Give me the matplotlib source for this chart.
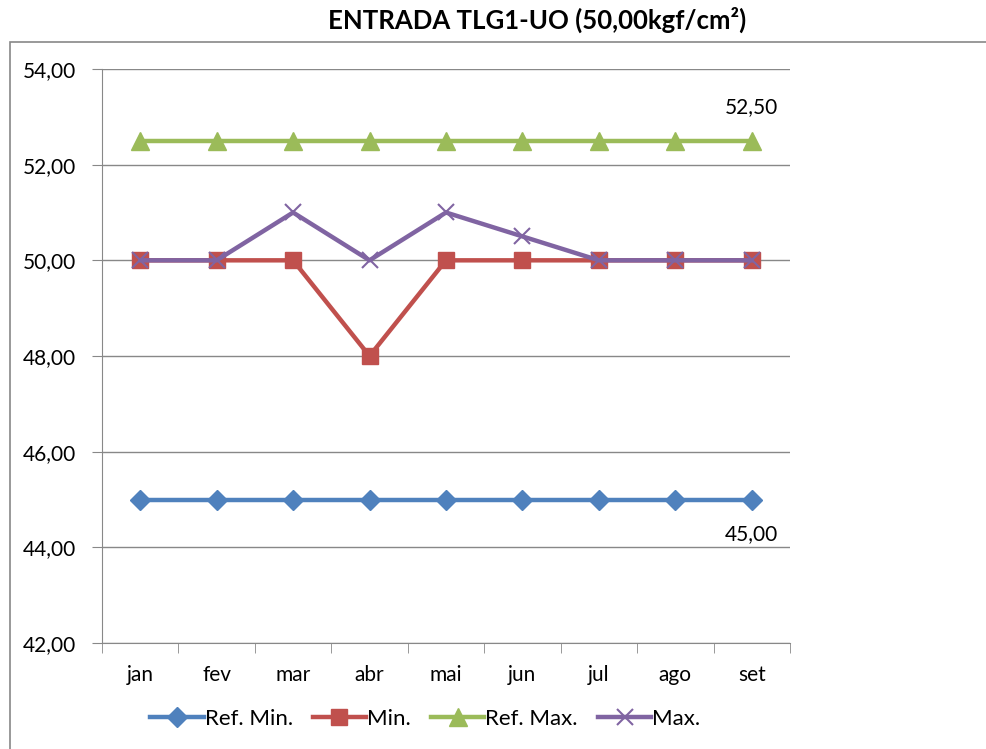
import numpy as np
import matplotlib.pyplot as plt
from matplotlib.patches import Rectangle

months = ["jan", "fev", "mar", "abr", "mai", "jun", "jul", "ago", "set"]
ref_min = [45, 45, 45, 45, 45, 45, 45, 45, 45]
vmin = [50, 50, 50, 48, 50, 50, 50, 50, 50]
ref_max = [52.5, 52.5, 52.5, 52.5, 52.5, 52.5, 52.5, 52.5, 52.5]
vmax = [50, 50, 51, 50, 51, 50.5, 50, 50, 50]
yticks = [42, 44, 46, 48, 50, 52, 54]

plt.rcParams['font.family'] = ['Lato', 'DejaVu Sans']

fig = plt.figure(figsize=(9.86, 7.49), dpi=100)
ax = fig.add_axes([0.1034, 0.1415, 0.6978, 0.7664])

# outer chart border (extends past the image on right/bottom)
fig.patches.append(Rectangle((0.0101, -0.1), 1.2, 1.044, transform=fig.transFigure,
                             fill=False, edgecolor='#888888', linewidth=1.2))

x = np.arange(len(months))
ax.plot(x, ref_min, color='#4F81BD', lw=3.2, marker='D', ms=10, label='Ref. Min.')
ax.plot(x, vmin, color='#C0504D', lw=3.2, marker='s', ms=12, label='Min.')
ax.plot(x, ref_max, color='#9BBB59', lw=3.2, marker='^', ms=13, label='Ref. Max.')
ax.plot(x, vmax, color='#8064A2', lw=3.2, marker='x', ms=11, mew=1.5, label='Max.')

ax.annotate("52,50", (x[-1], ref_max[-1]), xytext=(0, 24), textcoords='offset points',
            ha='center', va='center', fontsize=15)
ax.annotate("45,00", (x[-1], ref_min[-1]), xytext=(0, -25), textcoords='offset points',
            ha='center', va='center', fontsize=15)

ax.set_xlim(-0.5, len(months) - 0.5)
ax.set_ylim(42, 54)
ax.set_yticks(yticks)
ax.set_yticklabels([f"{v:.2f}".replace('.', ',') for v in yticks], fontsize=15)
ax.yaxis.grid(True, color='#888888', lw=1)
ax.set_axisbelow(True)

ax.set_xticks(x)
ax.set_xticklabels(months, fontsize=15)
ax.set_xticks(np.arange(-0.5, len(months)), minor=True)
ax.tick_params(axis='x', which='major', length=0, pad=16)
ax.tick_params(axis='x', which='minor', length=7, color='#888888')
ax.tick_params(axis='y', length=7, color='#888888', pad=12)

for s in ['top', 'right']:
    ax.spines[s].set_visible(False)
for s in ['left', 'bottom']:
    ax.spines[s].set_color('#888888')

ax.set_title("ENTRADA TLG1-UO (50,00kgf/cm²)", fontsize=18.5, fontweight='bold',
             x=0.632, y=1.055)

ax.legend(loc='center', bbox_to_anchor=(0.47, -0.132), ncol=4, frameon=False,
          fontsize=16, handlelength=2.4, handletextpad=0.05, columnspacing=0.9)

fig.savefig("out.png", dpi=100)
